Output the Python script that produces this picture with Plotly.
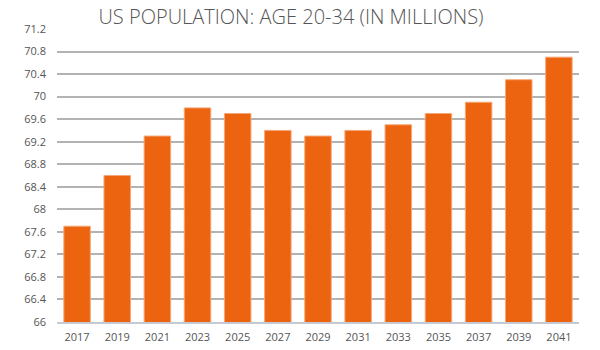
import plotly.graph_objects as go

years = ["2017", "2019", "2021", "2023", "2025", "2027", "2029", "2031", "2033", "2035", "2037", "2039", "2041"]
population = [67.7, 68.6, 69.3, 69.8, 69.7, 69.4, 69.3, 69.4, 69.5, 69.7, 69.9, 70.3, 70.7]
y_ticks = [66, 66.4, 66.8, 67.2, 67.6, 68, 68.4, 68.8, 69.2, 69.6, 70, 70.4, 70.8, 71.2]
y_tick_labels = ["66", "66.4", "66.8", "67.2", "67.6", "68", "68.4", "68.8", "69.2", "69.6", "70", "70.4", "70.8", "71.2"]

fig = go.Figure(go.Bar(
    x=years, y=population,
    marker=dict(color="#EC6410", line=dict(color="#F6A777", width=1)),
    width=0.66,
))

fig.update_layout(
    width=600, height=350,
    margin=dict(l=57, r=21, t=29, b=28, autoexpand=False),
    paper_bgcolor="white", plot_bgcolor="white",
    font=dict(family="Open Sans", color="#555555"),
    showlegend=False,
    title=dict(text="US POPULATION: AGE 20-34 (IN MILLIONS)", x=0.485, xanchor="center",
               y=0.952, yanchor="middle",
               font=dict(family="Open Sans", size=20, color="#555555", weight=300)),
    bargap=0.34,
)
fig.update_yaxes(range=[66, 71.2], tickvals=y_ticks, ticktext=y_tick_labels,
                 showgrid=True, gridcolor="#B3B3B3", gridwidth=2,
                 zeroline=False, ticks="", tickfont=dict(size=11, color="#555555"),
                 ticklabelstandoff=10, automargin=False)
fig.update_xaxes(showgrid=False, showline=True, linecolor="#C5C9D3", linewidth=2,
                 ticks="", tickfont=dict(size=11, color="#555555"),
                 ticklabelstandoff=4, automargin=False)

fig.write_html("out.html")
